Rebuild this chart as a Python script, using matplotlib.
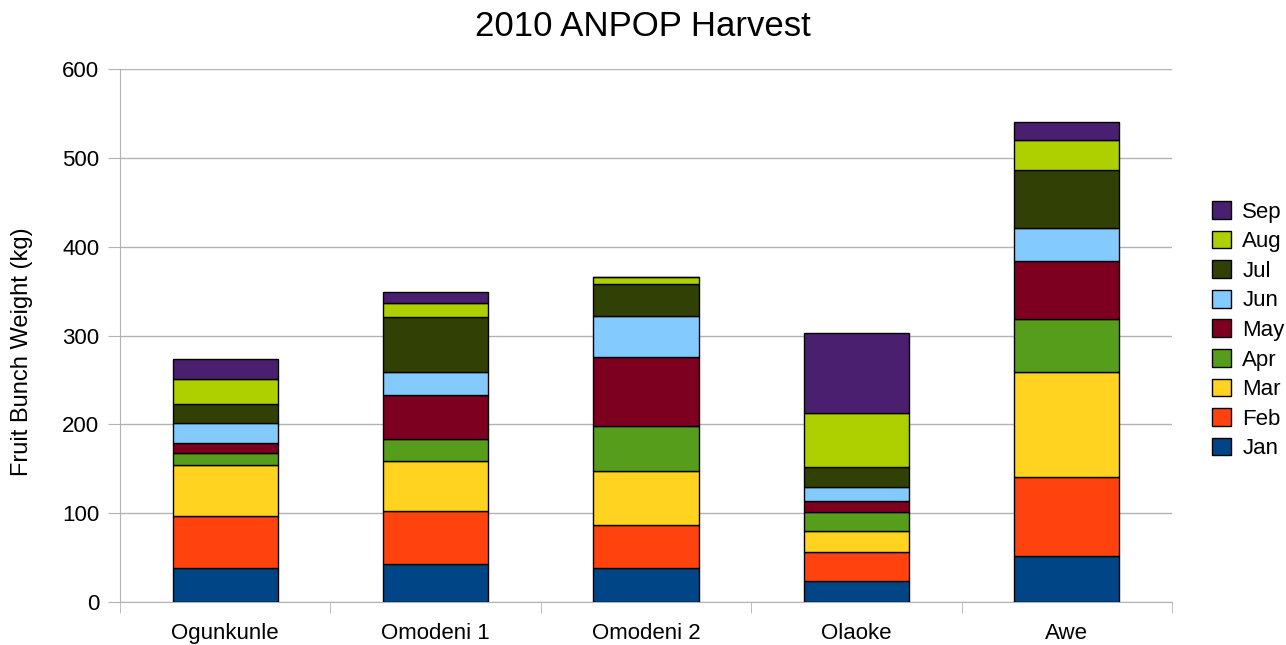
import matplotlib
matplotlib.use('Agg')
import matplotlib.pyplot as plt
import numpy as np

plt.rcParams['font.family'] = ['Liberation Sans', 'DejaVu Sans']

farms = ['Ogunkunle', 'Omodeni 1', 'Omodeni 2', 'Olaoke', 'Awe']
months = ['Jan', 'Feb', 'Mar', 'Apr', 'May', 'Jun', 'Jul', 'Aug', 'Sep']

jan = [38, 43, 38, 24, 52]
feb = [59, 59, 48.5, 32, 89]
mar = [57, 57, 60.5, 23.5, 118]
apr = [14, 25, 51, 21.5, 60]
may = [10.5, 48.5, 78, 13, 64.5]
jun = [23, 26, 46, 15.5, 38]
jul = [21, 62, 36, 22, 65]
aug = [28, 16.5, 7.5, 61, 33.5]
sep = [22.5, 12, 0, 90, 20]

series = [jan, feb, mar, apr, may, jun, jul, aug, sep]
colors = ['#004586', '#ff420e', '#ffd320', '#579d1c', '#7e0021',
          '#83caff', '#314004', '#aecf00', '#4b1f6f']

fig = plt.figure(figsize=(12.86, 6.45), dpi=100)
ax = fig.add_axes([120 / 1286, 43 / 645, 1052 / 1286, 533 / 645])

x = np.arange(len(farms))
bottom = np.zeros(len(farms))
handles = []
for vals, col, lbl in zip(series, colors, months):
    h = ax.bar(x, vals, 0.5, bottom=bottom, color=col, edgecolor='black',
               linewidth=1, label=lbl, zorder=3)
    handles.append(h)
    bottom += np.array(vals)

ax.set_xlim(-0.5, len(farms) - 0.5)
ax.set_ylim(0, 600)
ax.set_yticks(range(0, 601, 100))
ax.yaxis.grid(True, color='#b3b3b3', linewidth=1, zorder=0)
ax.set_xticks(x)
ax.set_xticklabels(farms, fontsize=16)
ax.set_xticks(np.arange(-0.5, len(farms), 1), minor=True)
ax.tick_params(axis='x', which='major', length=0, pad=15)
ax.tick_params(axis='x', which='minor', length=8, color='#b3b3b3')
ax.tick_params(axis='y', labelsize=16, length=8.5, color='#b3b3b3', pad=6.5)

for s in ['top', 'right']:
    ax.spines[s].set_visible(False)
for s in ['left', 'bottom']:
    ax.spines[s].set_color('#b3b3b3')

ax.set_ylabel('Fruit Bunch Weight (kg)', fontsize=17)
ax.yaxis.set_label_coords(-0.083, 0.47)
fig.suptitle('2010 ANPOP Harvest', fontsize=25, y=0.985)

ax.legend(handles[::-1], months[::-1], loc='center left',
          bbox_to_anchor=(1.03, 0.51), frameon=False, fontsize=16,
          handlelength=0.85, handleheight=0.85, labelspacing=0.36,
          handletextpad=0.5, borderaxespad=0)

fig.savefig('out.png', dpi=100)
